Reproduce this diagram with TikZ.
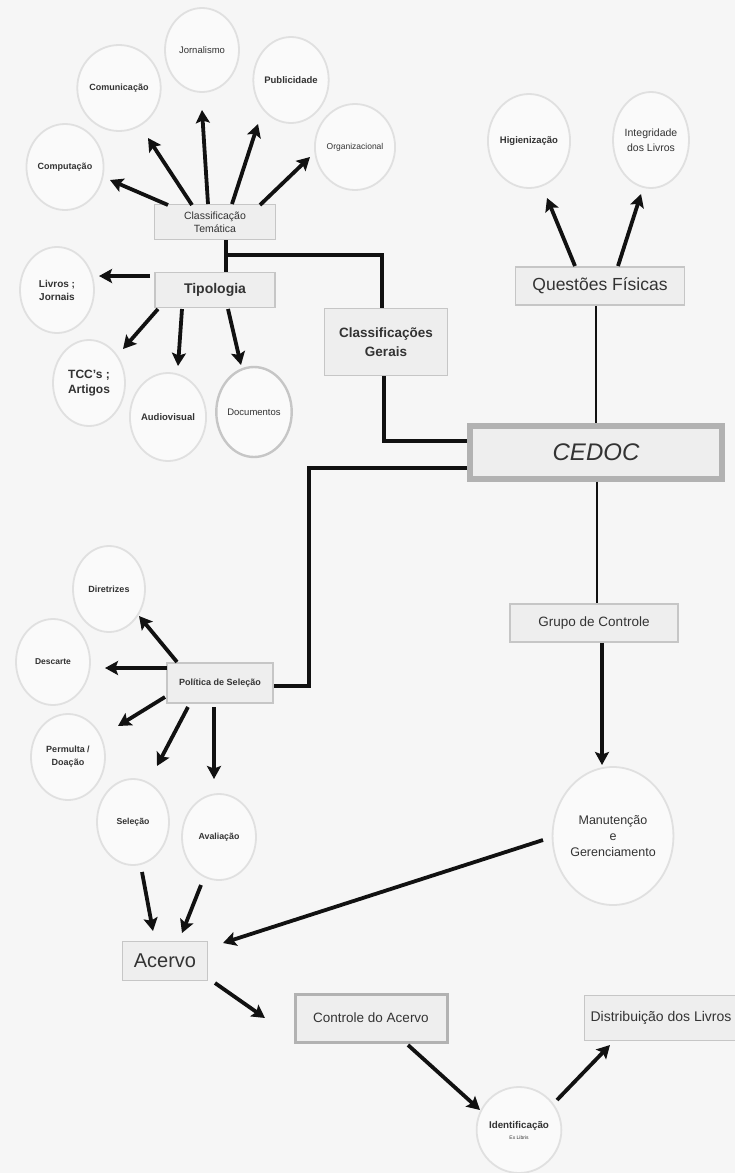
\documentclass[tikz,border=0pt]{standalone}
\usepackage{fontspec}
\setmainfont{Liberation Sans}
\usetikzlibrary{arrows.meta,calc,shapes.geometric}
\definecolor{bg}{HTML}{F6F6F6}
\definecolor{boxfill}{HTML}{EEEEEE}
\definecolor{boxline}{HTML}{C6C6C6}
\definecolor{circline}{HTML}{E0E0E0}
\definecolor{txt}{HTML}{333333}
\definecolor{ink}{HTML}{111111}
\begin{document}
\begin{tikzpicture}[x=1pt,y=-1pt,
  bubble/.style={ellipse, draw=circline, line width=1.8pt, fill=white!50!bg, inner sep=0pt,
    text=txt, align=center, minimum width=74pt, minimum height=86pt},
  boxn/.style={rectangle, draw=boxline, line width=1.6pt, fill=boxfill, inner sep=0pt,
    text=txt, align=center},
  arr/.style={line width=3.8pt, draw=ink, -{Stealth[length=13pt,width=14pt,inset=2.5pt]}},
  link/.style={line width=3.8pt, draw=ink},
  slim/.style={line width=2.6pt, draw=ink}]
\useasboundingbox (0,0) rectangle (735,1173);
\fill[bg] (0,0) rectangle (735,1173);

% ---------- top-left: Classificacao Tematica ----------
\node[bubble, minimum height=84pt, font=\fontsize{9.5}{11}\selectfont] (jorn) at (202,50) {Jornalismo};
\node[bubble, font=\fontsize{9}{11}\selectfont\bfseries] (comm) at (119,88) {Comunicação};
\node[bubble, font=\fontsize{9.5}{11}\selectfont\bfseries] (publ) at (291,80) {Publicidade};
\node[bubble, font=\fontsize{9}{11}\selectfont\bfseries] (comp) at (65,167) {Computação};
\node[bubble, minimum width=70pt, font=\fontsize{8.5}{10}\selectfont] (org) at (355,147) {Organizacional};
\node[boxn, minimum width=121pt, minimum height=35pt, font=\fontsize{10.5}{13}\selectfont] (ct) at (215,222)
  {Classificação\\Temática};

% ---------- Tipologia ----------
\node[boxn, minimum width=120pt, minimum height=35pt, font=\fontsize{14}{16}\selectfont\bfseries] (tip) at (215,290)
  {Tipologia};
\node[bubble, font=\fontsize{10}{13}\selectfont\bfseries] (livros) at (57,290) {Livros ;\\Jornais};
\node[bubble, minimum width=72pt, font=\fontsize{12}{15}\selectfont\bfseries] (tcc) at (89,383) {TCC's ;\\Artigos};
\node[bubble, minimum height=88pt, font=\fontsize{9.5}{11}\selectfont\bfseries] (audio) at (168,417) {Audiovisual};
\node[bubble, draw=boxline, line width=2.4pt, minimum height=90pt, font=\fontsize{9.5}{11}\selectfont] (docs) at (254,412)
  {Documentos};

% ---------- Classificacoes Gerais ----------
\node[boxn, minimum width=123pt, minimum height=67pt, font=\fontsize{13.5}{19}\selectfont\bfseries] (cg) at (386,342)
  {Classificações\\Gerais};

% ---------- Questoes Fisicas ----------
\node[bubble, minimum width=80pt, minimum height=94pt, font=\fontsize{9.5}{11}\selectfont\bfseries] (hig) at (529,141)
  {Higienização};
\node[bubble, minimum width=76pt, minimum height=96pt, font=\fontsize{10.5}{15}\selectfont] (integ) at (651,140)
  {Integridade\\dos Livros};
\node[boxn, minimum width=169pt, minimum height=38pt, font=\fontsize{17.5}{20}\selectfont] (qf) at (600,286)
  {Questões Físicas};

% ---------- CEDOC ----------
\node[boxn, draw=boxline!90!black, line width=6pt, minimum width=252pt, minimum height=53pt,
  font=\fontsize{24}{28}\selectfont\itshape] (cedoc) at (596,452) {CEDOC};

% ---------- Grupo de Controle ----------
\node[boxn, minimum width=168pt, minimum height=38pt, font=\fontsize{13.5}{16}\selectfont] (gc) at (594,623)
  {Grupo de Controle};
\node[bubble, minimum width=116pt, minimum height=138pt, font=\fontsize{12.5}{16}\selectfont] (manut) at (613,836)
  {Manutenção\\e\\Gerenciamento};

% ---------- Politica de Selecao ----------
\node[boxn, minimum width=106pt, minimum height=40pt, font=\fontsize{9}{11}\selectfont\bfseries] (pol) at (220,683)
  {Política de Seleção};
\node[bubble, minimum width=72pt, font=\fontsize{9}{11}\selectfont\bfseries] (dir) at (109,589) {Diretrizes};
\node[bubble, font=\fontsize{8.5}{11}\selectfont\bfseries] (desc) at (53,662) {Descarte};
\node[bubble, font=\fontsize{9}{13}\selectfont\bfseries] (perm) at (68,757) {Permulta /\\Doação};
\node[bubble, minimum width=72pt, font=\fontsize{8.7}{11}\selectfont\bfseries] (sel) at (133,822) {Seleção};
\node[bubble, font=\fontsize{8.8}{11}\selectfont\bfseries] (aval) at (219,837) {Avaliação};

% ---------- bottom chain ----------
\node[boxn, minimum width=85pt, minimum height=39pt, font=\fontsize{20}{24}\selectfont] (acervo) at (165,961)
  {Acervo};
\node[boxn, draw=boxline!90!black, line width=3pt, minimum width=152pt, minimum height=48pt,
  font=\fontsize{13.5}{16}\selectfont] (ctrl) at (371,1018) {Controle do Acervo};
\node[bubble, font=\fontsize{9.8}{12}\selectfont\bfseries] (ident) at (519,1130)
  {Identificação\\[-1pt]{\fontsize{5}{6}\selectfont\mdseries Ex Libris}};
\node[boxn, minimum width=153pt, minimum height=45pt, font=\fontsize{14}{17}\selectfont] (dist) at (661,1018)
  {Distribuição dos Livros};

% ================= connectors =================
% Classificacao Tematica fan
\draw[arr] ($(ct)+(-47,-17)$) -- ($(comp)+(45,13)$);
\draw[arr] ($(ct)+(-23,-17)$) -- ($(comm)+(29,50)$);
\draw[arr] ($(ct)+(-7,-18)$) -- ($(jorn)+(0,60)$);
\draw[arr] ($(ct)+(17,-18)$) -- ($(publ)+(-33,44)$);
\draw[arr] ($(ct)+(45,-17)$) -- ($(org)+(-45,10)$);

% Tematica - Tipologia - Classificacoes Gerais
\draw[link] ([xshift=11pt]ct.south) -- ([xshift=11pt]tip.north);
\coordinate (j1) at (226,255);
\draw[link] (j1) -| ([xshift=-4pt]cg.north);
\draw[link] ([xshift=-2pt]cg.south) |- ($(cedoc.west)+(0,-11)$);

% Tipologia fan
\draw[arr] ($(tip)+(-65,-14)$) -- ($(livros)+(42,-14)$);
\draw[arr] ($(tip)+(-57,19)$) -- ($(tcc)+(34,-34)$);
\draw[arr] ($(tip)+(-33,19)$) -- ($(audio)+(10,-51)$);
\draw[arr] ($(tip)+(13,19)$) -- ($(docs)+(-13,-47)$);

% Questoes Fisicas
\draw[arr] ($(qf)+(-25,-20)$) -- ($(hig)+(18,57)$);
\draw[arr] ($(qf)+(18,-20)$) -- ($(integ)+(-10,54)$);
\draw[slim] ([xshift=-4pt]qf.south) -- (cedoc.north);

% CEDOC - Politica de Selecao
\coordinate (k1) at (309,468);
\draw[link] ($(cedoc.west)+(0,16)$) -- (k1) |- ($(pol.east)+(0,3)$);

% CEDOC - Grupo de Controle - Manutencao
\draw[slim] ([xshift=1pt]cedoc.south) -- ([xshift=3pt]gc.north);
\draw[arr] ([xshift=8pt]gc.south) -- ($(manut)+(-11,-71)$);

% Politica de Selecao fan
\draw[arr] ($(pol)+(-43,-21)$) -- ($(dir)+(30,27)$);
\draw[arr] ($(pol)+(-53,-15)$) -- ($(desc)+(52,6)$);
\draw[arr] ($(pol)+(-55,14)$) -- ($(perm)+(50,-31)$);
\draw[arr] ($(pol)+(-32,24)$) -- ($(sel)+(24,-56)$);
\draw[arr] ($(pol)+(-6,24)$) -- ($(aval)+(-5,-58)$);

% into Acervo
\draw[arr] ($(sel)+(9,50)$) -- ($(acervo)+(-12,-30)$);
\draw[arr] ($(aval)+(-18,48)$) -- ($(acervo)+(17,-28)$);
\draw[arr] ($(manut)+(-70,4)$) -- ($(acervo)+(58,-18)$);

% bottom chain
\draw[arr] ($(acervo)+(50,22)$) -- ($(ctrl)+(-106,0)$);
\draw[arr] ($(ctrl)+(37,27)$) -- ($(ident)+(-39,-20)$);
\draw[arr] ($(ident)+(38,-30)$) -- ($(dist)+(-51,27)$);
\end{tikzpicture}
\end{document}
